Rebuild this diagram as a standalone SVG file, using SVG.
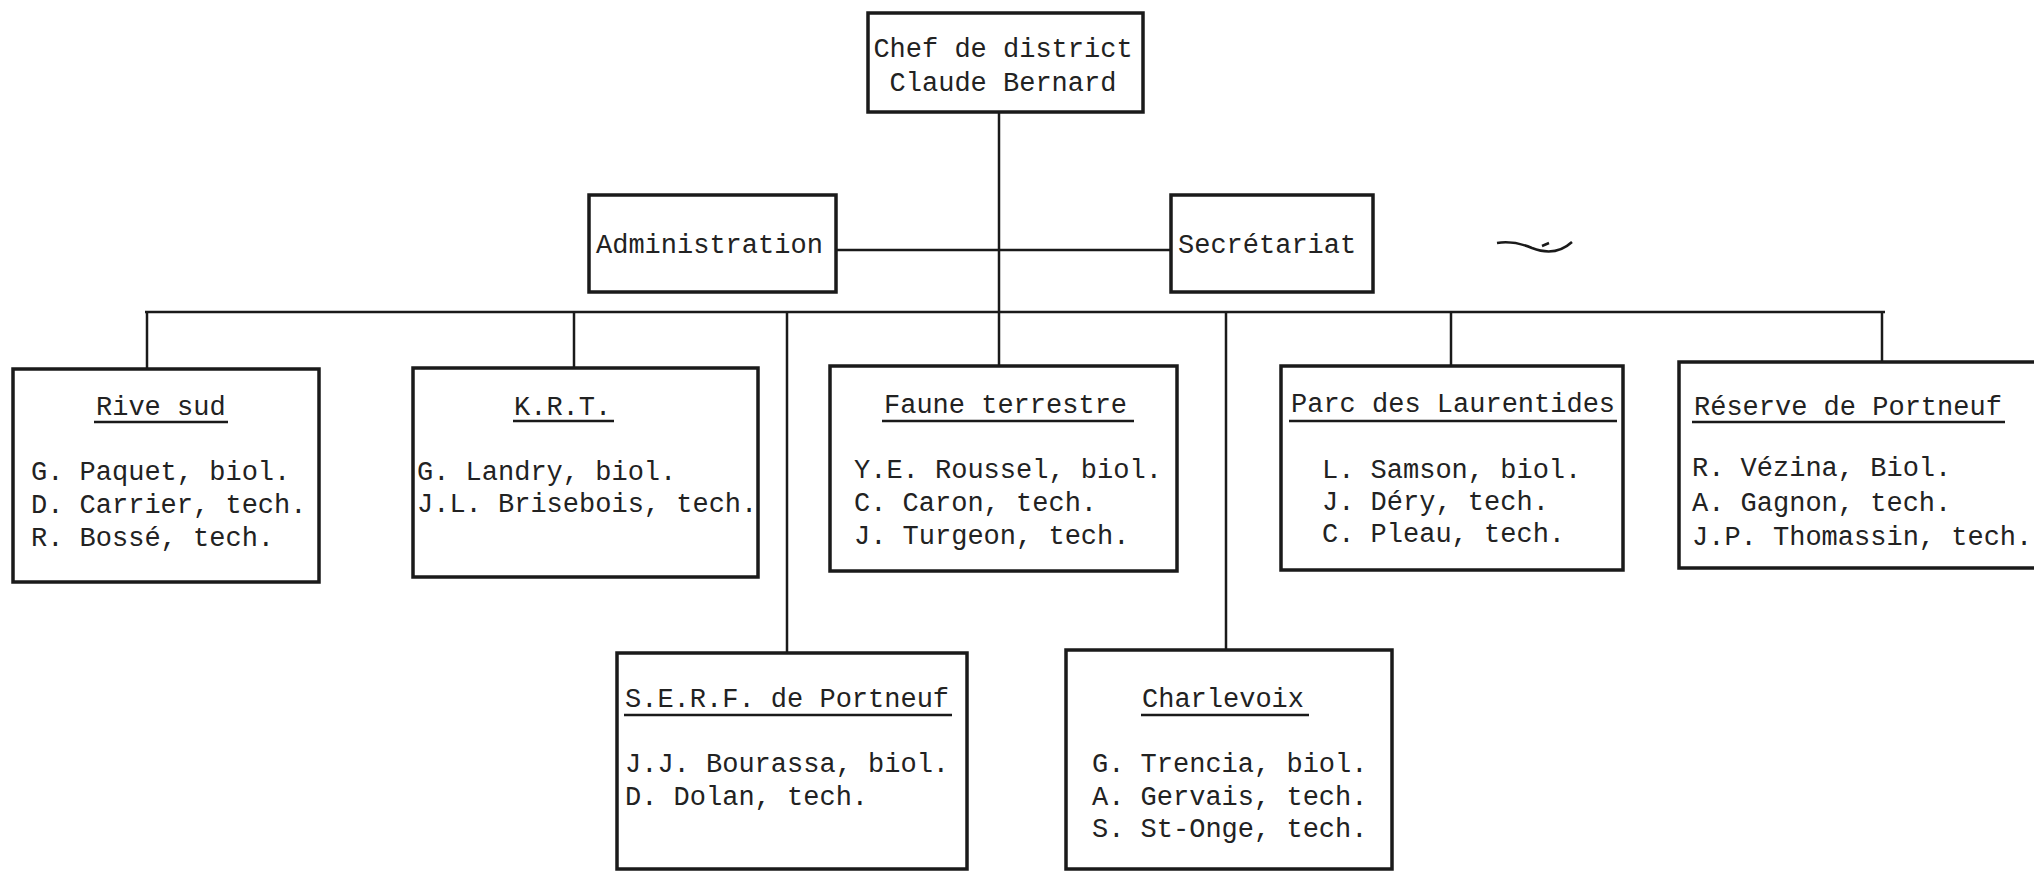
<svg xmlns="http://www.w3.org/2000/svg" width="2034" height="872" viewBox="0 0 2034 872">
<style>
.bg{fill:#ffffff}
.box{fill:none;stroke:#1a1a1a;stroke-width:3.5}
.ln{fill:none;stroke:#1a1a1a;stroke-width:2.5}
.ul{stroke:#1a1a1a;stroke-width:2.5}
.t{font-family:"Liberation Mono","DejaVu Sans Mono",monospace;font-size:27px;fill:#222222}
.c{text-anchor:middle}
</style>
<rect class="bg" x="0" y="0" width="2034" height="872"/>
<g id="connectors">
<path class="ln" d="M999 112 V312"/>
<path class="ln" d="M836 250 H1171"/>
<path class="ln" d="M145 312 H1885"/>
<path class="ln" d="M147 312 V369"/>
<path class="ln" d="M574 312 V368"/>
<path class="ln" d="M787 312 V653"/>
<path class="ln" d="M999 312 V366"/>
<path class="ln" d="M1226 312 V650"/>
<path class="ln" d="M1451 312 V366"/>
<path class="ln" d="M1882 312 V362"/>
</g>
<g id="chef">
<rect class="box" x="868" y="13" width="275" height="99"/>
<text class="t c" x="1003" y="57">Chef de district</text>
<text class="t c" x="1003" y="91">Claude Bernard</text>
</g>
<g id="administration">
<rect class="box" x="589" y="195" width="247" height="97"/>
<text class="t" x="596" y="253">Administration</text>
</g>
<g id="secretariat">
<rect class="box" x="1171" y="195" width="202" height="97"/>
<text class="t" x="1178" y="253">Secrétariat</text>
</g>
<g id="rive-sud">
<rect class="box" x="13" y="369" width="306" height="213"/>
<text class="t" x="96" y="415">Rive sud</text>
<line class="ul" x1="94" y1="422" x2="228" y2="422"/>
<text class="t" x="31" y="480">G. Paquet, biol.</text>
<text class="t" x="31" y="513">D. Carrier, tech.</text>
<text class="t" x="31" y="546">R. Bossé, tech.</text>
</g>
<g id="krt">
<rect class="box" x="413" y="368" width="345" height="209"/>
<text class="t" x="514" y="415">K.R.T.</text>
<line class="ul" x1="513" y1="421" x2="614" y2="421"/>
<text class="t" x="417" y="480">G. Landry, biol.</text>
<text class="t" x="417" y="512">J.L. Brisebois, tech.</text>
</g>
<g id="faune-terrestre">
<rect class="box" x="830" y="366" width="347" height="205"/>
<text class="t" x="884" y="413">Faune terrestre</text>
<line class="ul" x1="882" y1="421" x2="1134" y2="421"/>
<text class="t" x="854" y="478">Y.E. Roussel, biol.</text>
<text class="t" x="854" y="511">C. Caron, tech.</text>
<text class="t" x="854" y="544">J. Turgeon, tech.</text>
</g>
<g id="parc-des-laurentides">
<rect class="box" x="1281" y="366" width="342" height="204"/>
<text class="t" x="1291" y="412">Parc des Laurentides</text>
<line class="ul" x1="1289" y1="421" x2="1617" y2="421"/>
<text class="t" x="1322" y="478">L. Samson, biol.</text>
<text class="t" x="1322" y="510">J. Déry, tech.</text>
<text class="t" x="1322" y="542">C. Pleau, tech.</text>
</g>
<g id="reserve-de-portneuf">
<rect class="box" x="1679" y="362" width="370" height="206"/>
<text class="t" x="1694" y="415">Réserve de Portneuf</text>
<line class="ul" x1="1692" y1="422" x2="2005" y2="422"/>
<text class="t" x="1692" y="476">R. Vézina, Biol.</text>
<text class="t" x="1692" y="511">A. Gagnon, tech.</text>
<text class="t" x="1692" y="545">J.P. Thomassin, tech.</text>
</g>
<g id="serf-de-portneuf">
<rect class="box" x="617" y="653" width="350" height="216"/>
<text class="t" x="625" y="707">S.E.R.F. de Portneuf</text>
<line class="ul" x1="624" y1="715" x2="952" y2="715"/>
<text class="t" x="625" y="772">J.J. Bourassa, biol.</text>
<text class="t" x="625" y="805">D. Dolan, tech.</text>
</g>
<g id="charlevoix">
<rect class="box" x="1066" y="650" width="326" height="219"/>
<text class="t" x="1142" y="707">Charlevoix</text>
<line class="ul" x1="1141" y1="715" x2="1309" y2="715"/>
<text class="t" x="1092" y="772">G. Trencia, biol.</text>
<text class="t" x="1092" y="805">A. Gervais, tech.</text>
<text class="t" x="1092" y="837">S. St-Onge, tech.</text>
</g>
<g id="pen-mark">
<path class="ln" d="M1497 243 C1510 241 1520 243 1532 248 C1545 253 1560 253 1572 242"/>
<path class="ln" d="M1542 246 L1549 243"/>
</g>
</svg>
